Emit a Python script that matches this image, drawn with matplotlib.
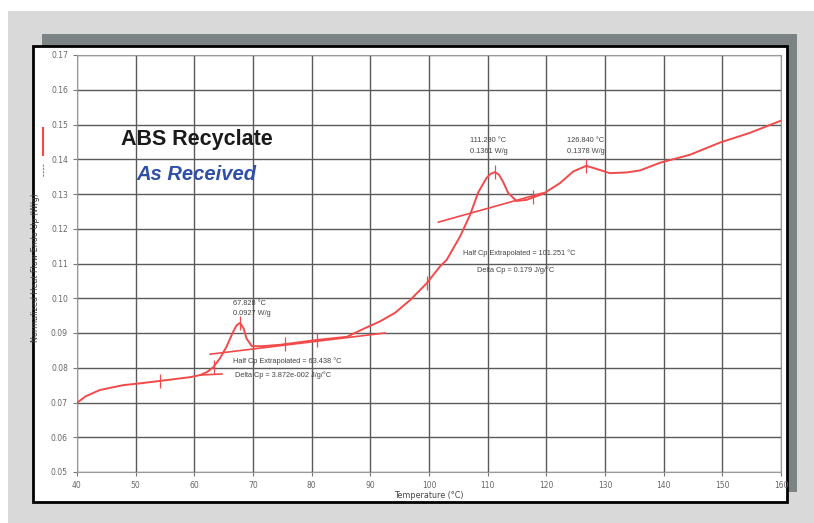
import numpy as np
import matplotlib
matplotlib.use("Agg")
import matplotlib.pyplot as plt
from matplotlib.patches import Rectangle
from matplotlib.lines import Line2D

# DSC trace
temp = [40.0, 41.5, 43.9, 47.9, 50.7, 54.1, 59.3, 61.0, 62.2, 63.2, 64.4, 65.5, 66.6,
        67.2, 67.8, 68.4, 68.9, 69.8, 71.5, 74.6, 80.9, 86.0, 89.1, 91.6, 94.2, 96.8, 99.6,
        101.9, 103.0, 105.3, 107.0, 108.4, 109.8, 110.5, 111.2, 111.9, 112.6, 113.5, 114.9,
        116.6, 119.5, 122.3, 124.6, 126.8, 128.6, 130.8, 133.7, 136.0, 139.4,
        144.5, 149.6, 154.7, 160.0]
heat_flow = [0.0699, 0.0718, 0.0736, 0.0750, 0.0755, 0.0762, 0.0773, 0.0779, 0.0788,
             0.0801, 0.0828, 0.0861, 0.0903, 0.0922, 0.0929, 0.0913, 0.0884, 0.0862,
             0.0862, 0.0866, 0.0880, 0.0889, 0.0914, 0.0933, 0.0958, 0.0995, 0.1043,
             0.1092, 0.1110, 0.1178, 0.1240, 0.1305, 0.1346, 0.1358, 0.1363, 0.1356,
             0.1336, 0.1303, 0.1280, 0.1283, 0.1301, 0.1331, 0.1365, 0.1381, 0.1372,
             0.1360, 0.1362, 0.1368, 0.1390, 0.1413, 0.1448, 0.1476, 0.1511]

# extrapolated baselines
base1_t = [61.0, 64.7]
base1_y = [0.0779, 0.0782]
base2_t = [62.7, 92.5]
base2_y = [0.0839, 0.0900]
base3_t = [101.6, 119.4]
base3_y = [0.1219, 0.1303]

# analysis cursor positions
cursor_t = [54.1, 63.3, 67.8, 75.5, 80.9, 99.6, 111.2, 117.8, 126.8]

x_ticks = list(range(40, 161, 10))
y_ticks = [0.05, 0.06, 0.07, 0.08, 0.09, 0.10, 0.11, 0.12, 0.13, 0.14, 0.15, 0.16, 0.17]

W, H = 814, 523
fig = plt.figure(figsize=(W / 100, H / 100), dpi=100)
fig.patch.set_facecolor("white")

def fx(px):
    return px / W

def fy(py):
    return 1 - py / H

# panels: grey page, shadow, white frame
fig.patches.append(Rectangle((fx(8), 0), fx(806), 512 / H, transform=fig.transFigure,
                             facecolor="#d9d9d9", edgecolor="none", zorder=0))
fig.patches.append(Rectangle((fx(42), fy(492)), fx(755), 458 / H, transform=fig.transFigure,
                             facecolor="#7b8385", edgecolor="none", zorder=1))
fig.patches.append(Rectangle((fx(33), fy(502)), fx(754), 456 / H, transform=fig.transFigure,
                             facecolor="white", edgecolor="black", linewidth=2, zorder=2))

ax = fig.add_axes([fx(77), fy(472), fx(781 - 77), 417 / H])
ax.set_zorder(3)
ax.set_facecolor("none")

red = "#f24a4a"
ax.plot(temp, heat_flow, color=red, lw=1.4, zorder=4)
for bt, by in [(base1_t, base1_y), (base2_t, base2_y), (base3_t, base3_y)]:
    ax.plot(bt, by, color=red, lw=1.2, zorder=4)
ax.plot(cursor_t, np.interp(cursor_t, temp, heat_flow), ls="none", marker="|",
        markersize=10, markeredgewidth=0.9, color=red, zorder=4)

ax.set_xlim(40, 160)
ax.set_ylim(0.05, 0.17)
ax.set_xticks(x_ticks)
ax.set_yticks(y_ticks)
ax.set_yticklabels([f"{v:.2f}" for v in y_ticks])
ax.grid(True, color="#5a5a5a", lw=1.0)
ax.tick_params(labelsize=5.5, labelcolor="#666666", color="#777777", length=3, width=0.8)
for s in ax.spines.values():
    s.set_color("#9a9a9a")
    s.set_linewidth(0.8)

ax.set_xlabel("Temperature (°C)", fontsize=5.8, color="#444444")
ax.xaxis.set_label_coords(0.5, -0.045)
ax.set_ylabel("Normalized Heat Flow Endo Up (W/g)", fontsize=5.8, color="#444444")
ax.yaxis.set_label_coords(-0.052, 0.49)

# titles
ax.text(60.45, 0.1456, "ABS Recyclate", fontsize=15.5, fontweight="bold",
        family="Liberation Sans", color="#1a1a1a", ha="center", va="center")
ax.text(60.4, 0.1355, "As Received", fontsize=14.5, fontweight="bold", style="italic",
        family="Liberation Sans", color="#3050a8", ha="center", va="center")

# annotations
notes = [
    (66.6, 0.0986, "67.828 °C"),
    (66.6, 0.0957, "0.0927 W/g"),
    (66.6, 0.0819, "Half Cp Extrapolated = 63.438 °C"),
    (66.9, 0.0779, "Delta Cp = 3.872e-002 J/g/°C"),
    (107.0, 0.1453, "111.280 °C"),
    (107.0, 0.1422, "0.1361 W/g"),
    (123.5, 0.1453, "126.840 °C"),
    (123.5, 0.1422, "0.1378 W/g"),
    (105.8, 0.1131, "Half Cp Extrapolated = 101.251 °C"),
    (108.2, 0.1082, "Delta Cp = 0.179 J/g/°C"),
]
for t, v, s in notes:
    ax.text(t, v, s, fontsize=5.3, family="Liberation Sans", color="#444444",
            ha="left", va="center", zorder=5)

# legend swatches left of the y label
fig.add_artist(Line2D([fx(43), fx(43)], [fy(128), fy(155)], color=red, lw=1.5, zorder=5))
fig.add_artist(Line2D([fx(43), fx(43)], [fy(164), fy(177)], color="#888888", lw=0.8,
                      ls=(0, (2, 1)), zorder=5))

fig.savefig("out.png", dpi=100)
